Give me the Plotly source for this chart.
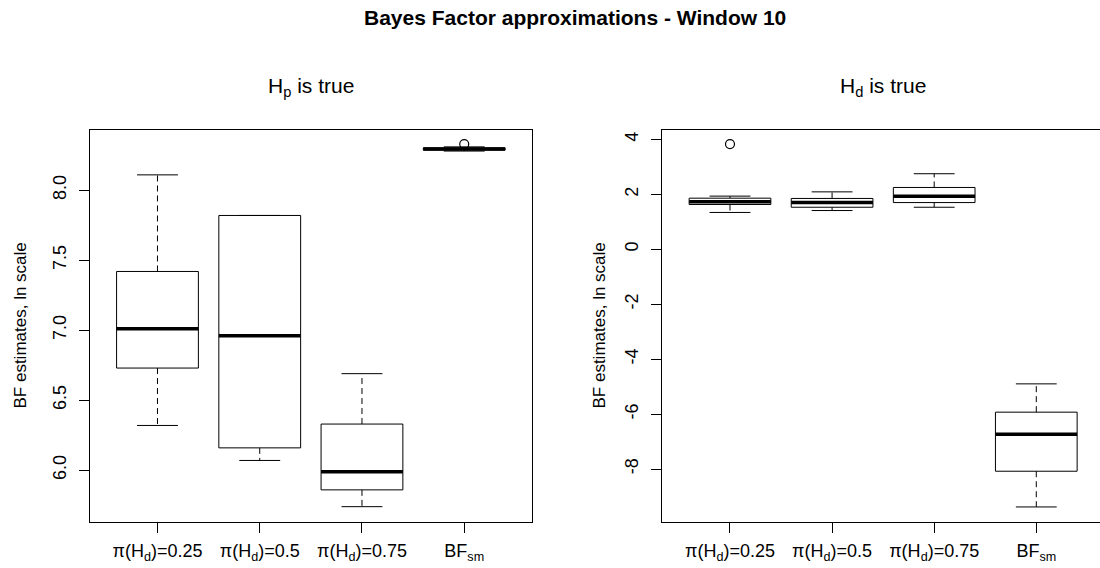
import plotly.graph_objects as go

# ---------------- data ----------------
categories = ["π(H<sub>d</sub>)=0.25", "π(H<sub>d</sub>)=0.5", "π(H<sub>d</sub>)=0.75", "BF<sub>sm</sub>"]
positions = [1, 2, 3, 4]

# Left panel: Hp is true
hp_lower = [6.32, 6.07, 5.74, 8.280]
hp_q1 = [6.73, 6.16, 5.86, 8.287]
hp_median = [7.01, 6.96, 5.99, 8.295]
hp_q3 = [7.42, 7.82, 6.33, 8.303]
hp_upper = [8.11, 7.82, 6.69, 8.310]
hp_out_x = [4]
hp_out_y = [8.33]

# Right panel: Hd is true
hd_lower = [1.34, 1.41, 1.53, -9.38]
hd_q1 = [1.63, 1.53, 1.70, -8.08]
hd_median = [1.73, 1.70, 1.93, -6.73]
hd_q3 = [1.86, 1.85, 2.25, -5.93]
hd_upper = [1.935, 2.09, 2.75, -4.90]
hd_out_x = [1]
hd_out_y = [3.83]

left_ticks = [6.0, 6.5, 7.0, 7.5, 8.0]
left_ticktext = ["6.0", "6.5", "7.0", "7.5", "8.0"]
right_ticks = [-8, -6, -4, -2, 0, 2, 4]
right_ticktext = ["-8", "-6", "-4", "-2", "0", "2", "4"]

FONT = "Liberation Sans, Arial, sans-serif"
HALF_BOX = 0.4
HALF_CAP = 0.2
BLACK = "#000000"


def box_traces(xs, lo, q1, med, q3, hi, out_x, out_y, xa, ya):
    traces = []
    # whiskers (dashed)
    wx, wy = [], []
    for x, l, a, b, h in zip(xs, lo, q1, q3, hi):
        wx += [x, x, None, x, x, None]
        wy += [b, h, None, a, l, None]
    traces.append(go.Scatter(x=wx, y=wy, mode="lines", xaxis=xa, yaxis=ya,
                             line=dict(color=BLACK, width=1, dash="6px,4px"),
                             hoverinfo="skip", showlegend=False))
    # staples
    sx, sy = [], []
    for x, l, h in zip(xs, lo, hi):
        sx += [x - HALF_CAP, x + HALF_CAP, None, x - HALF_CAP, x + HALF_CAP, None]
        sy += [h, h, None, l, l, None]
    traces.append(go.Scatter(x=sx, y=sy, mode="lines", xaxis=xa, yaxis=ya,
                             line=dict(color=BLACK, width=1),
                             hoverinfo="skip", showlegend=False))
    # boxes
    bx, by = [], []
    for x, a, b in zip(xs, q1, q3):
        bx += [x - HALF_BOX, x + HALF_BOX, x + HALF_BOX, x - HALF_BOX, x - HALF_BOX, None]
        by += [a, a, b, b, a, None]
    traces.append(go.Scatter(x=bx, y=by, mode="lines", xaxis=xa, yaxis=ya,
                             line=dict(color=BLACK, width=1),
                             hoverinfo="skip", showlegend=False))
    # medians
    mx, my = [], []
    for x, m in zip(xs, med):
        mx += [x - HALF_BOX, x + HALF_BOX, None]
        my += [m, m, None]
    traces.append(go.Scatter(x=mx, y=my, mode="lines", xaxis=xa, yaxis=ya,
                             line=dict(color=BLACK, width=3.5),
                             hoverinfo="skip", showlegend=False))
    # outliers
    traces.append(go.Scatter(x=out_x, y=out_y, mode="markers", xaxis=xa, yaxis=ya,
                             marker=dict(symbol="circle-open", size=9, color=BLACK,
                                         line=dict(width=1.2, color=BLACK)),
                             hoverinfo="skip", showlegend=False))
    return traces


fig = go.Figure()
for t in box_traces(positions, hp_lower, hp_q1, hp_median, hp_q3, hp_upper,
                    hp_out_x, hp_out_y, "x", "y"):
    fig.add_trace(t)
for t in box_traces(positions, hd_lower, hd_q1, hd_median, hd_q3, hd_upper,
                    hd_out_x, hd_out_y, "x2", "y2"):
    fig.add_trace(t)

W, H = 1100, 568
ydom = [1 - 521.5 / H, 1 - 129.5 / H]

axis_common = dict(showline=True, linecolor=BLACK, linewidth=1, showgrid=False,
                   zeroline=False, ticks="outside", ticklen=10, tickcolor=BLACK,
                   tickwidth=1, tickfont=dict(family=FONT, size=18, color=BLACK))

fig.update_layout(
    width=W, height=H,
    margin=dict(l=0, r=0, t=0, b=0),
    paper_bgcolor="white", plot_bgcolor="white",
    showlegend=False,
    xaxis=dict(domain=[90 / W, 531.7 / W], range=[0.34, 4.66], anchor="y",
               tickvals=positions, ticktext=categories, mirror=True,
               ticklabelstandoff=3, **axis_common),
    yaxis=dict(domain=ydom, range=[5.634, 8.434], anchor="x",
               tickvals=left_ticks, ticktext=left_ticktext, tickangle=-90,
               mirror=True, ticklabelstandoff=6, **axis_common),
    xaxis2=dict(domain=[662.3 / W, 1.0], range=[0.337, 4.624], anchor="y2",
                tickvals=positions, ticktext=categories, mirror=True,
                ticklabelstandoff=3, **axis_common),
    yaxis2=dict(domain=ydom, range=[-9.91, 4.36], anchor="x2",
                tickvals=right_ticks, ticktext=right_ticktext, tickangle=-90,
                mirror=False, ticklabelstandoff=6, **axis_common),
)

ymid = (ydom[0] + ydom[1]) / 2
annotations = [
    dict(text="<b>Bayes Factor approximations - Window 10</b>", x=575 / W, y=1 - 18 / H,
         font=dict(family=FONT, size=21, color=BLACK)),
    dict(text="H<sub>p</sub> is true", x=310.8 / W, y=1 - 87 / H,
         font=dict(family=FONT, size=21, color=BLACK)),
    dict(text="H<sub>d</sub> is true", x=883 / W, y=1 - 87 / H,
         font=dict(family=FONT, size=21, color=BLACK)),
    dict(text="BF estimates, ln scale", x=20 / W, y=ymid, textangle=-90,
         font=dict(family=FONT, size=17, color=BLACK)),
    dict(text="BF estimates, ln scale", x=599 / W, y=ymid, textangle=-90,
         font=dict(family=FONT, size=17, color=BLACK)),
]
for a in annotations:
    a.update(xref="paper", yref="paper", showarrow=False, xanchor="center", yanchor="middle")
fig.update_layout(annotations=annotations)

fig.write_html("out.html")
